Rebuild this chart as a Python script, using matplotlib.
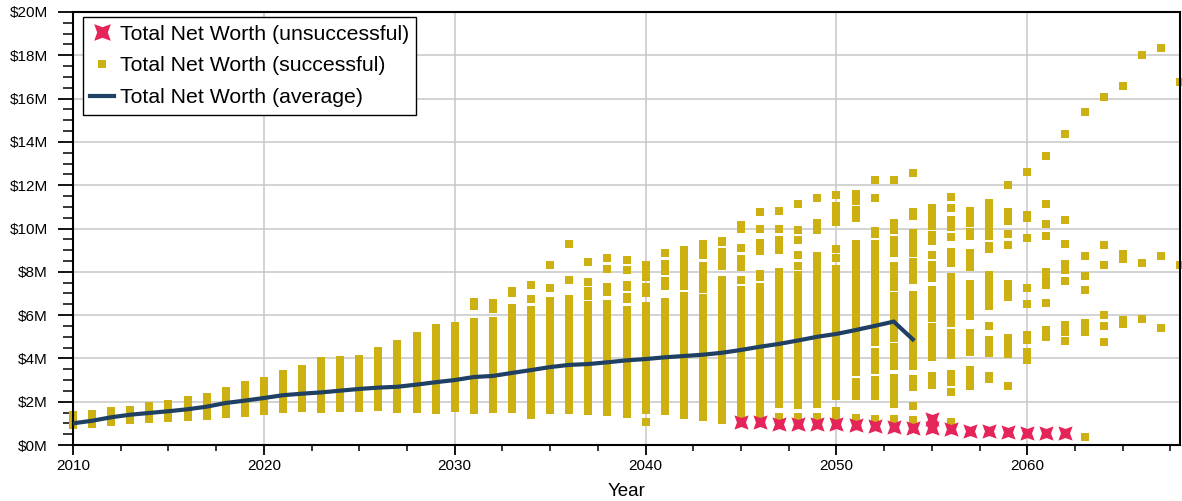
import matplotlib
matplotlib.use('Agg')
import numpy as np
import matplotlib.pyplot as plt
from matplotlib.ticker import MultipleLocator, FuncFormatter
from matplotlib.lines import Line2D
from matplotlib.path import Path

plt.rcParams['font.family'] = ['Liberation Sans', 'DejaVu Sans']

GOLD = '#CDB011'
RED = '#E5245A'
NAVY = '#1F4063'

# average net worth ($M) per year
avg_years = list(range(2010, 2055))
avg_worth = [1.00, 1.12, 1.28, 1.40, 1.48, 1.56, 1.65, 1.77, 1.94, 2.05,
             2.17, 2.30, 2.37, 2.43, 2.51, 2.59, 2.65, 2.69, 2.79, 2.90,
             3.00, 3.14, 3.19, 3.33, 3.46, 3.60, 3.70, 3.74, 3.82, 3.91,
             3.97, 4.05, 4.11, 4.17, 4.26, 4.39, 4.54, 4.67, 4.83, 5.00,
             5.13, 5.31, 5.50, 5.70, 4.88]

# unsuccessful runs ($M)
unsucc_years = [2045, 2046, 2047, 2048, 2049, 2050, 2051, 2052, 2053, 2054,
                2055, 2055, 2056, 2057, 2058, 2059, 2060, 2061, 2062]
unsucc_worth = [1.08, 1.08, 0.99, 0.98, 0.96, 0.95, 0.92, 0.87, 0.83, 0.80,
                1.19, 0.78, 0.76, 0.66, 0.63, 0.60, 0.57, 0.54, 0.54]

# successful runs: (year, low, high) of each cluster of points, $M
succ_ranges = [
    (2010, 0.92, 1.39), (2011, 0.97, 1.43), (2012, 1.06, 1.59), (2013, 1.15, 1.63),
    (2014, 1.20, 1.80), (2015, 1.25, 1.89), (2016, 1.29, 2.09), (2017, 1.34, 2.22),
    (2018, 1.43, 2.51), (2019, 1.49, 2.77), (2020, 1.57, 2.96), (2021, 1.66, 3.29),
    (2022, 1.71, 3.51), (2023, 1.66, 3.88), (2024, 1.71, 3.93), (2025, 1.71, 3.97),
    (2026, 1.76, 4.34), (2027, 1.66, 4.68), (2028, 1.66, 5.05), (2029, 1.62, 5.40),
    (2030, 1.71, 5.50),
    (2031, 1.62, 5.68), (2031, 6.42, 6.61),
    (2032, 1.66, 5.73), (2032, 6.28, 6.56),
    (2033, 1.66, 6.33), (2033, 7.02, 7.11),
    (2034, 1.39, 6.24), (2034, 6.74, 6.74), (2034, 7.37, 7.37),
    (2035, 1.62, 6.65), (2035, 7.25, 7.25), (2035, 8.31, 8.31),
    (2036, 1.62, 6.74), (2036, 7.62, 7.62), (2036, 9.28, 9.28),
    (2037, 1.57, 6.47), (2037, 6.88, 7.11), (2037, 7.53, 7.53), (2037, 8.45, 8.45),
    (2038, 1.52, 6.51), (2038, 7.07, 7.30), (2038, 8.13, 8.13), (2038, 8.64, 8.64),
    (2039, 1.43, 6.24), (2039, 6.74, 6.84), (2039, 7.30, 7.39), (2039, 8.08, 8.08),
    (2039, 8.55, 8.55),
    (2040, 1.06, 1.06), (2040, 1.62, 6.42), (2040, 7.02, 7.30), (2040, 7.76, 8.31),
    (2041, 1.57, 6.61), (2041, 7.34, 7.57), (2041, 8.04, 8.36), (2041, 8.87, 8.87),
    (2042, 1.39, 6.88), (2042, 7.34, 9.01),
    (2043, 1.29, 6.79), (2043, 7.21, 8.27), (2043, 8.78, 9.28),
    (2044, 1.15, 7.62), (2044, 8.27, 8.91), (2044, 9.38, 9.42),
    (2045, 1.43, 7.16), (2045, 7.62, 7.62), (2045, 8.22, 8.59), (2045, 9.10, 9.10),
    (2045, 9.98, 10.16),
    (2046, 1.43, 7.30), (2046, 7.76, 7.90), (2046, 8.96, 9.33), (2046, 9.98, 9.98),
    (2046, 10.76, 10.76),
    (2047, 1.29, 1.29), (2047, 1.89, 7.99), (2047, 9.01, 9.47), (2047, 9.98, 9.98),
    (2047, 10.81, 10.81),
    (2048, 1.29, 1.29), (2048, 1.85, 7.85), (2048, 8.27, 8.27), (2048, 8.78, 8.78),
    (2048, 9.45, 9.45), (2048, 9.92, 9.92), (2048, 11.13, 11.13),
    (2049, 1.29, 1.29), (2049, 1.89, 8.73), (2049, 9.93, 10.25), (2049, 11.41, 11.41),
    (2050, 1.29, 1.57), (2050, 2.26, 8.13), (2050, 8.64, 8.64), (2050, 9.05, 9.05),
    (2050, 10.30, 11.04), (2050, 11.55, 11.55),
    (2051, 1.25, 1.25), (2051, 2.26, 2.91), (2051, 3.37, 9.28), (2051, 10.49, 10.85),
    (2051, 11.27, 11.59),
    (2052, 1.20, 1.20), (2052, 2.26, 3.00), (2052, 3.46, 4.30), (2052, 4.76, 9.28),
    (2052, 9.75, 9.88), (2052, 11.41, 11.41), (2052, 12.22, 12.22),
    (2053, 1.20, 1.20), (2053, 1.89, 3.09), (2053, 3.65, 4.53), (2053, 4.94, 6.88),
    (2053, 7.30, 8.27), (2053, 8.87, 9.47), (2053, 9.93, 10.25), (2053, 12.24, 12.24),
    (2054, 1.15, 1.15), (2054, 1.80, 1.80), (2054, 2.68, 3.05), (2054, 3.65, 6.93),
    (2054, 7.62, 8.45), (2054, 8.87, 9.79), (2054, 10.58, 10.76), (2054, 12.56, 12.56),
    (2055, 2.77, 3.19), (2055, 4.06, 5.45), (2055, 5.87, 7.16), (2055, 7.71, 8.31),
    (2055, 8.76, 8.76), (2055, 9.42, 9.70), (2055, 10.12, 10.95),
    (2056, 1.06, 1.06), (2056, 2.45, 2.45), (2056, 2.91, 3.28), (2056, 4.16, 5.17),
    (2056, 5.64, 7.76), (2056, 8.41, 8.91), (2056, 9.61, 9.61), (2056, 10.07, 10.39),
    (2056, 10.95, 10.95), (2056, 11.45, 11.45),
    (2057, 2.73, 3.46), (2057, 4.30, 5.17), (2057, 5.96, 7.44), (2057, 8.22, 8.87),
    (2057, 9.65, 9.84), (2057, 10.25, 10.81),
    (2058, 3.05, 3.19), (2058, 4.25, 4.85), (2058, 5.50, 5.50), (2058, 6.42, 7.85),
    (2058, 9.05, 9.19), (2058, 9.65, 10.25), (2058, 10.62, 11.18),
    (2059, 2.73, 2.73), (2059, 4.20, 4.94), (2059, 6.84, 7.44), (2059, 9.24, 9.24),
    (2059, 9.73, 9.73), (2059, 10.35, 10.76), (2059, 12.01, 12.01),
    (2060, 3.93, 4.30), (2060, 4.85, 5.08), (2060, 6.51, 6.51), (2060, 7.25, 7.25),
    (2060, 9.55, 9.55), (2060, 10.49, 10.62), (2060, 12.61, 12.61),
    (2061, 4.99, 5.31), (2061, 6.56, 6.56), (2061, 7.39, 7.99), (2061, 9.65, 9.65),
    (2061, 10.21, 10.21), (2061, 11.13, 11.13), (2061, 13.35, 13.35),
    (2062, 4.80, 4.80), (2062, 5.22, 5.54), (2062, 7.57, 7.57), (2062, 8.08, 8.36),
    (2062, 9.28, 9.28), (2062, 10.39, 10.39), (2062, 14.36, 14.36),
    (2063, 0.37, 0.37), (2063, 5.22, 5.64), (2063, 7.16, 7.16), (2063, 7.81, 7.81),
    (2063, 8.73, 8.73), (2063, 15.38, 15.38),
    (2064, 4.76, 4.76), (2064, 5.50, 5.50), (2064, 6.00, 6.00), (2064, 8.31, 8.31),
    (2064, 9.24, 9.24), (2064, 16.07, 16.07),
    (2065, 5.59, 5.77), (2065, 8.59, 8.82), (2065, 16.58, 16.58),
    (2066, 5.82, 5.82), (2066, 8.41, 8.41), (2066, 18.01, 18.01),
    (2067, 5.40, 5.40), (2067, 8.73, 8.73), (2067, 18.34, 18.34),
    (2068, 8.31, 8.31), (2068, 16.77, 16.77),
]

# four-pointed star, points on the diagonals
ang = np.deg2rad(np.arange(45, 405, 45))
rad = [1.0, 0.45] * 4
star = Path(np.column_stack([np.array(rad) * np.cos(ang),
                             np.array(rad) * np.sin(ang)]).tolist() + [[0.7071, 0.7071]],
            closed=True)

fig = plt.figure(figsize=(11.82, 5.01), dpi=100)
ax = fig.add_axes([73 / 1182, 1 - 445 / 501, 1107 / 1182, 433 / 501])

sq = 8 * 72 / 100  # marker side, 8 px in points

# successful: clusters drawn as bars, with a square at each end
seg_x = [r[0] for r in succ_ranges]
seg_lo = [r[1] for r in succ_ranges]
seg_hi = [r[2] for r in succ_ranges]
ax.vlines(seg_x, seg_lo, seg_hi, colors=GOLD, linewidth=sq, zorder=2, clip_on=False)
ax.scatter(seg_x + seg_x, seg_lo + seg_hi, marker='s', s=sq ** 2, color=GOLD,
           linewidths=0, zorder=2, clip_on=False)

ax.scatter(unsucc_years, unsucc_worth, marker=star, s=105, color=RED,
           linewidths=0, zorder=3, clip_on=False)

ax.plot(avg_years, avg_worth, color=NAVY, linewidth=3, zorder=4,
        solid_joinstyle='miter')

ax.set_xlim(2010, 2068)
ax.set_ylim(0, 20)
ax.xaxis.set_major_locator(MultipleLocator(10))
ax.xaxis.set_minor_locator(MultipleLocator(2.5))
ax.yaxis.set_major_locator(MultipleLocator(2))
ax.yaxis.set_minor_locator(MultipleLocator(0.5))
ax.yaxis.set_major_formatter(FuncFormatter(lambda v, p: '$%dM' % v))

ax.grid(True, which='major', color='#c8c8c8', linewidth=1.1, zorder=0)
ax.set_axisbelow(True)
for s in ax.spines.values():
    s.set_linewidth(1.5)
    s.set_color('black')

ax.tick_params(axis='y', which='major', length=11, width=1.3, labelsize=11, pad=7)
ax.tick_params(axis='y', which='minor', length=7, width=1.1)
ax.tick_params(axis='x', which='major', length=7, width=1.3, labelsize=11, pad=3)
ax.tick_params(axis='x', which='minor', length=4, width=1.1)
ax.set_xlabel('Year', fontsize=13.5, labelpad=7)

handles = [
    Line2D([], [], linestyle='none', marker=star, markersize=12, color=RED,
           markeredgewidth=0),
    Line2D([], [], linestyle='none', marker='s', markersize=sq, color=GOLD,
           markeredgewidth=0),
    Line2D([], [], color=NAVY, linewidth=3),
]
labels = ['Total Net Worth (unsuccessful)', 'Total Net Worth (successful)',
          'Total Net Worth (average)']
leg = ax.legend(handles, labels, loc='upper left', bbox_to_anchor=(0.009, 0.988),
                borderaxespad=0, fontsize=15.3, frameon=True, fancybox=False,
                edgecolor='black', framealpha=1, handlelength=1.13,
                handletextpad=0.25, borderpad=0.35, labelspacing=0.6)
leg.get_frame().set_linewidth(1.0)
leg.set_zorder(10)

fig.savefig('out.png', dpi=100)
